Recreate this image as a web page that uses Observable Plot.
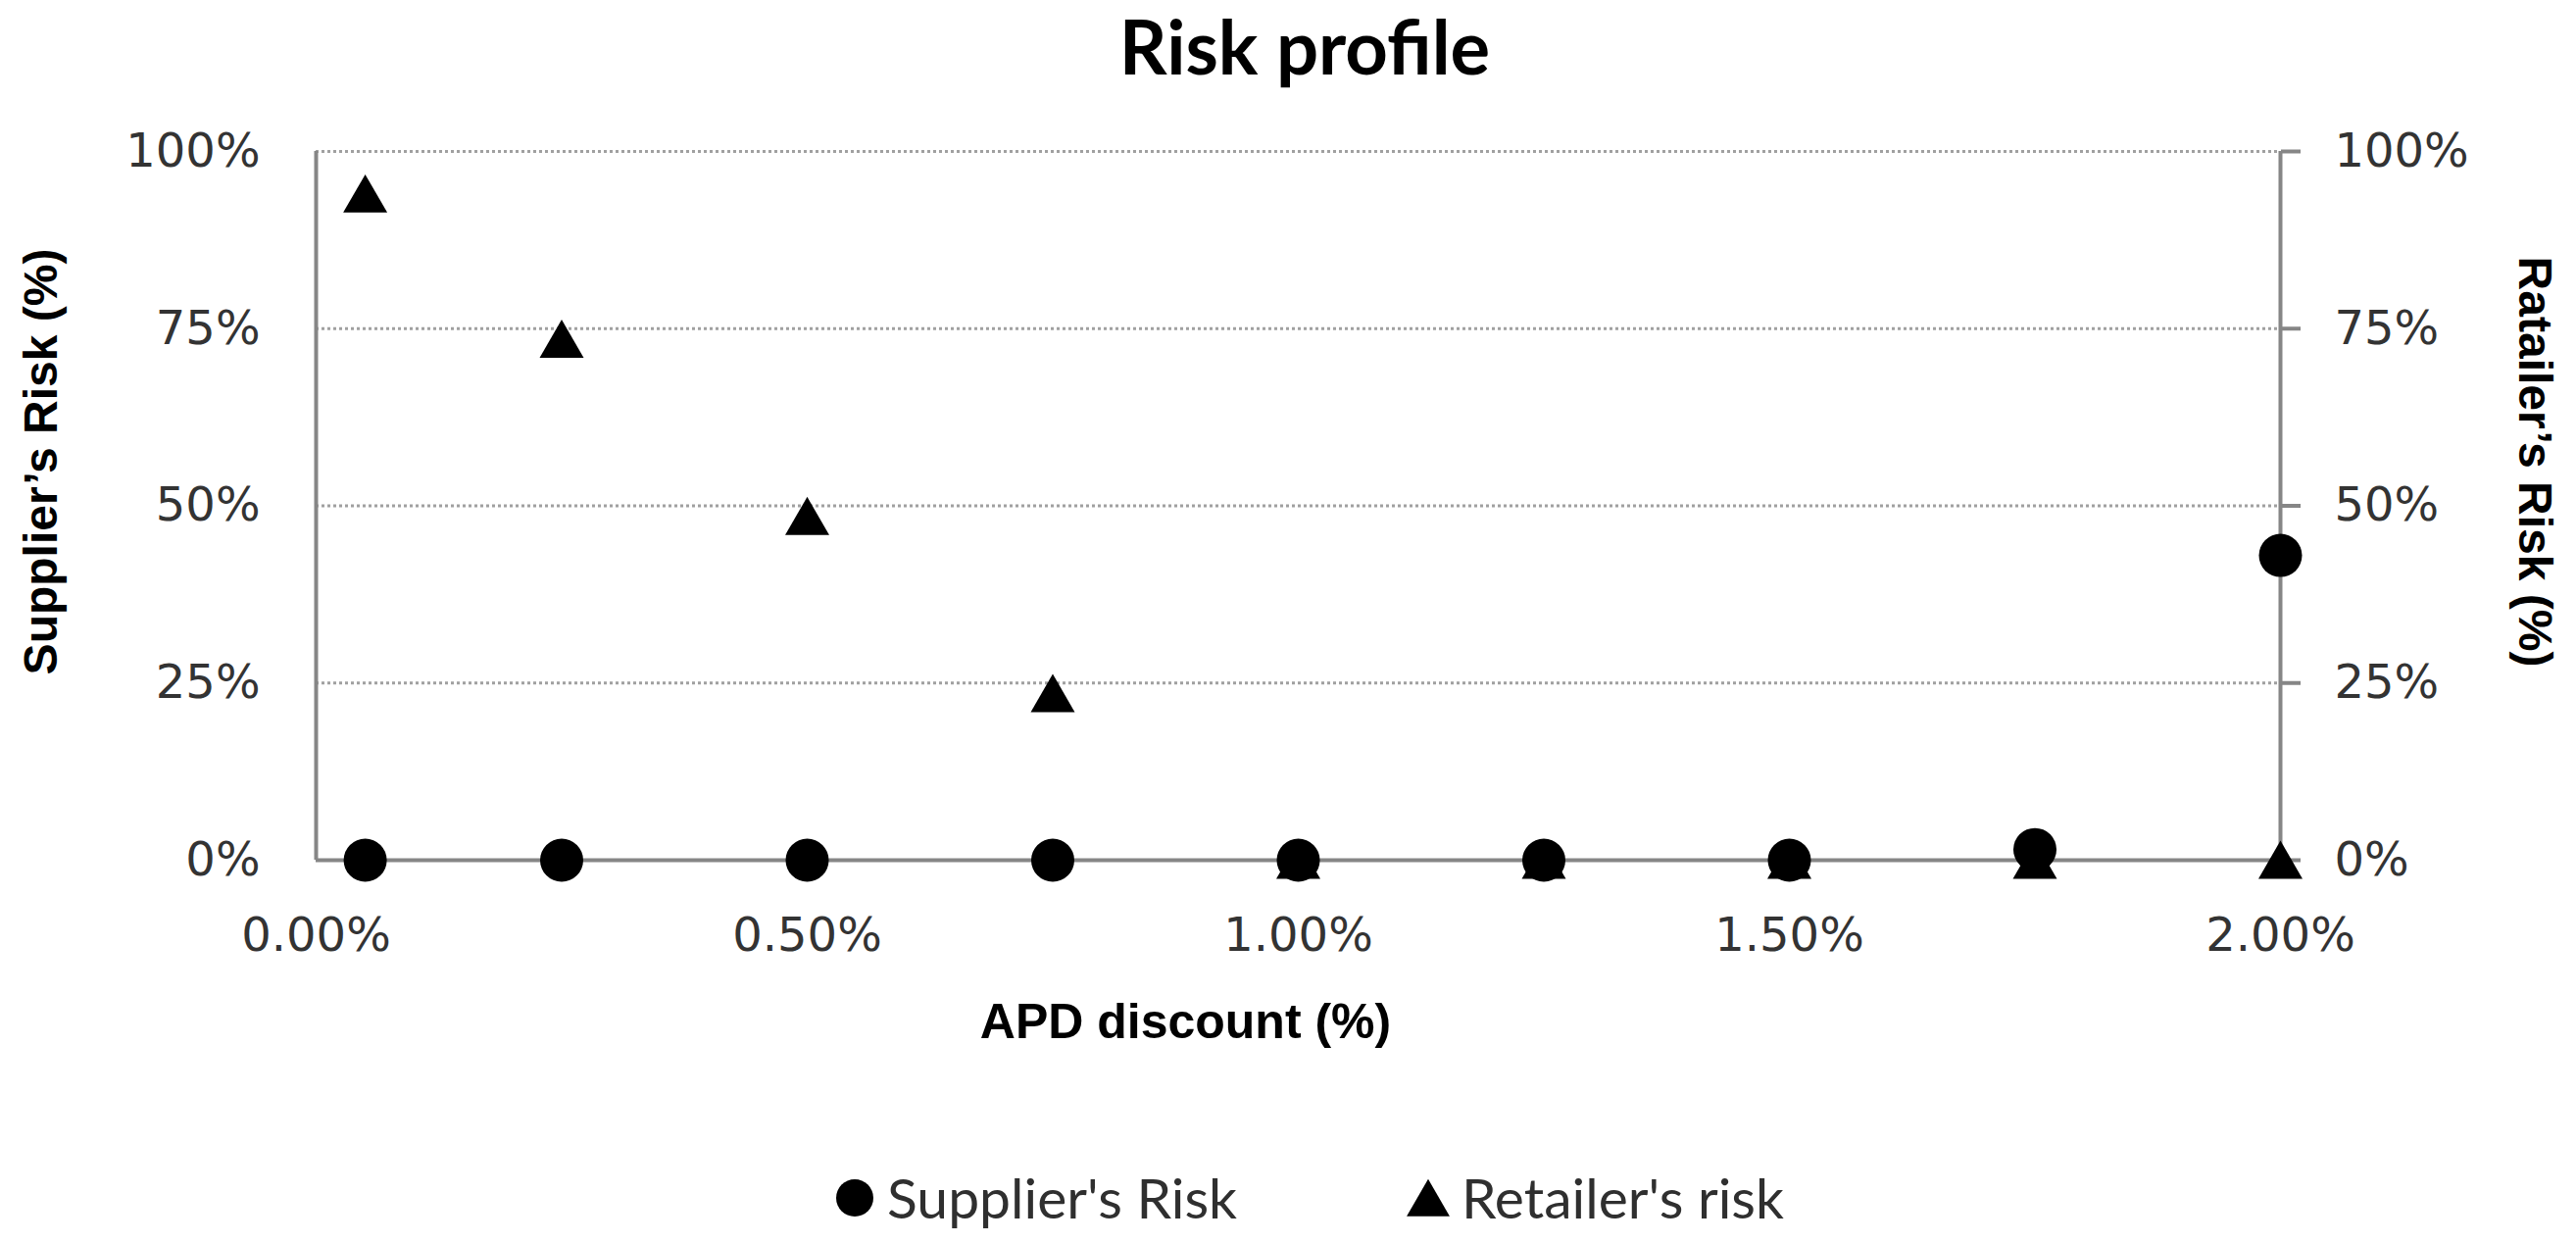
<!DOCTYPE html>
<html>
<head>
<meta charset="utf-8">
<script src="https://cdn.jsdelivr.net/npm/d3@7"></script>
<script src="https://cdn.jsdelivr.net/npm/@observablehq/plot@0.6"></script>
<style>
  html, body { margin: 0; padding: 0; background: #ffffff; }
  #wrap { width: 2628px; height: 1268px; overflow: hidden; }
  svg { display: block; }
</style>
</head>
<body>
<div id="wrap"></div>
<script>
// ---- data ----
const apdDiscount   = [0.0005, 0.0025, 0.005, 0.0075, 0.01, 0.0125, 0.015, 0.0175, 0.02];
const supplierRisk  = [0, 0, 0, 0, 0, 0, 0, 0.015, 0.43];
const retailerRisk  = [0.94, 0.735, 0.485, 0.235, 0, 0, 0, 0, 0];
const xTicks = [0, 0.005, 0.01, 0.015, 0.02];
const yTicks = [0, 0.25, 0.5, 0.75, 1];
const xDomain = [0, 0.02];
const yDomain = [0, 1];
const titleText = "Risk profile";
const xTitle = "APD discount (%)";
const yLeftTitle = "Supplier\u2019s Risk (%)";
const yRightTitle = "Ratailer\u2019s Risk (%)";
const seriesNames = ["Supplier's Risk", "Retailer's risk"];

const supplier = apdDiscount.map((x, i) => ({x, y: supplierRisk[i]}));
const retailer = apdDiscount.map((x, i) => ({x, y: retailerRisk[i]}));

const W = 2628;
const wrap = document.getElementById("wrap");

// ---- title (above) ----
const title = d3.create("svg").attr("width", W).attr("height", 100);
title.append("text")
  .attr("x", 1331).attr("y", 76)
  .attr("text-anchor", "middle")
  .attr("font-family", "Lato, 'Open Sans', sans-serif")
  .attr("font-weight", 700)
  .attr("font-size", 76)
  .attr("fill", "#000")
  .text(titleText);
wrap.appendChild(title.node());

// ---- chart ----
const axisGray = "#868686";
const tickColor = "#333333";
const titleFont = "'Liberation Sans', Arial, sans-serif";

const chart = Plot.plot({
  width: W,
  height: 1050,
  marginTop: 54,
  marginBottom: 273,
  marginLeft: 322,
  marginRight: 302,
  style: {fontFamily: "'DejaVu Sans', Verdana, sans-serif", color: tickColor, background: "#fff"},
  x: {domain: xDomain},
  y: {domain: yDomain},
  marks: [
    Plot.gridY(yTicks.filter(d => d > 0), {stroke: "#a0a0a0", strokeOpacity: 1, strokeWidth: 3, strokeDasharray: "3,3"}),
    Plot.axisY(yTicks, {anchor: "left", tickSize: 0, tickPadding: 57, tickFormat: d3.format(".0%"), fontSize: 48, fill: tickColor, label: null}),
    Plot.axisY(yTicks, {anchor: "right", tickSize: 20, tickPadding: 35, tickFormat: d3.format(".0%"), fontSize: 48, fill: tickColor, stroke: axisGray, strokeWidth: 4, label: null}),
    Plot.axisX(xTicks, {anchor: "bottom", tickSize: 0, tickPadding: 58, tickFormat: d3.format(".2%"), fontSize: 48, fill: tickColor, label: null}),
    Plot.ruleX([xDomain[0]], {stroke: axisGray, strokeWidth: 4}),
    Plot.ruleX([xDomain[1]], {stroke: axisGray, strokeWidth: 4}),
    Plot.ruleY([yDomain[0]], {stroke: axisGray, strokeWidth: 4}),
    Plot.dot(retailer, {x: "x", y: "y", symbol: "triangle", r: 16.7, fill: "#000", stroke: null, dy: 6}),
    Plot.dot(supplier, {x: "x", y: "y", symbol: "circle", r: 22, fill: "#000", stroke: null}),
    Plot.text([xTitle], {frameAnchor: "bottom", textAnchor: "middle", lineAnchor: "middle", dx: -115, dy: 165, fontFamily: titleFont, fontWeight: 700, fontSize: 50, fill: "#000"}),
    Plot.text([yLeftTitle], {frameAnchor: "left", textAnchor: "middle", lineAnchor: "middle", rotate: -90, dx: -280, dy: -45, fontFamily: titleFont, fontWeight: 700, fontSize: 48, fill: "#000"}),
    Plot.text([yRightTitle], {frameAnchor: "right", textAnchor: "middle", lineAnchor: "middle", rotate: 90, dx: 259, dy: -45, fontFamily: titleFont, fontWeight: 700, fontSize: 48, fill: "#000"})
  ]
});
wrap.appendChild(chart);

// ---- legend (below) ----
const legend = d3.create("svg").attr("width", W).attr("height", 118);
const items = [
  {name: seriesNames[0], sym: d3.symbolCircle, r: 19, cx: 872, tx: 905},
  {name: seriesNames[1], sym: d3.symbolTriangle, r: 16.3, cx: 1457, tx: 1491}
];
for (const it of items) {
  const dyOff = it.sym === d3.symbolTriangle ? 6 : 0;
  legend.append("path")
    .attr("transform", `translate(${it.cx},${72 + dyOff})`)
    .attr("d", d3.symbol(it.sym, Math.PI * it.r * it.r)())
    .attr("fill", "#000");
  legend.append("text")
    .attr("x", it.tx).attr("y", 93)
    .attr("font-family", "Lato, 'Open Sans', sans-serif")
    .attr("font-size", 57)
    .attr("fill", "#2f2f2f")
    .text(it.name);
}
wrap.appendChild(legend.node());
</script>
</body>
</html>
